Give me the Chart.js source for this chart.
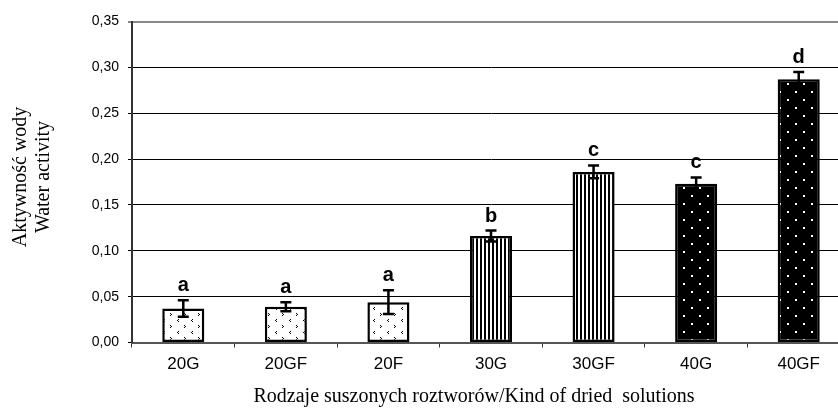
<!DOCTYPE html>
<html>
<head>
<meta charset="utf-8">
<script src="https://cdn.jsdelivr.net/npm/chart.js@4"></script>
<style>
  html, body { margin: 0; padding: 0; background: #fff; overflow: hidden; }
  #wrap { width: 850px; height: 412px; }
</style>
</head>
<body>
<div id="wrap"><canvas id="c" width="850" height="412"></canvas></div>
<script>
// Water activity of dried solutions
const categories = ['20G', '20GF', '20F', '30G', '30GF', '40G', '40GF'];
const activity   = [0.037, 0.039, 0.044, 0.116, 0.186, 0.173, 0.287];
const errors     = [0.009, 0.005, 0.013, 0.006, 0.007, 0.007, 0.008];
const groups     = ['a', 'a', 'a', 'b', 'c', 'c', 'd'];
const yTicks     = [0, 0.05, 0.10, 0.15, 0.20, 0.25, 0.30, 0.35];

// fill patterns
function tile(w, h, draw) {
  const t = document.createElement('canvas');
  t.width = w; t.height = h;
  const g = t.getContext('2d');
  draw(g);
  return t.getContext('2d').createPattern(t, 'repeat');
}
// sparse chevrons on white
const chevrons = tile(14, 12, g => {
  g.fillStyle = '#fff'; g.fillRect(0, 0, 14, 12);
  g.fillStyle = '#000';
  // ">"
  g.fillRect(2, 1, 1, 1); g.fillRect(3, 2, 1, 1); g.fillRect(2, 3, 1, 1);
  // "<"
  g.fillRect(10, 7, 1, 1); g.fillRect(9, 8, 1, 1); g.fillRect(10, 9, 1, 1);
});
// vertical stripes
const stripes = tile(4, 1, g => {
  g.fillStyle = '#fff'; g.fillRect(0, 0, 4, 1);
  g.fillStyle = '#000'; g.fillRect(0, 0, 2, 1);
});
// white dots on black
const dots = tile(16, 16, g => {
  g.fillStyle = '#000'; g.fillRect(0, 0, 16, 16);
  g.fillStyle = '#fff';
  g.fillRect(3, 3, 2, 2); g.fillRect(11, 11, 2, 2);
});
const fills = [chevrons, chevrons, chevrons, stripes, stripes, dots, dots];

const errorBars = {
  id: 'errorBars',
  afterDatasetsDraw(chart) {
    const ctx = chart.ctx;
    const y = chart.scales.y;
    const meta = chart.getDatasetMeta(0);
    ctx.save();
    ctx.strokeStyle = '#000';
    ctx.lineWidth = 2.5;
    meta.data.forEach((bar, i) => {
      const x = bar.x;
      const top = y.getPixelForValue(activity[i] + errors[i]);
      const bot = y.getPixelForValue(activity[i] - errors[i]);
      ctx.beginPath();
      ctx.moveTo(x, top); ctx.lineTo(x, bot);
      ctx.moveTo(x - 5.5, top); ctx.lineTo(x + 5.5, top);
      ctx.moveTo(x - 5.5, bot); ctx.lineTo(x + 5.5, bot);
      ctx.stroke();
      ctx.fillStyle = '#000';
      ctx.font = 'bold 20px "Liberation Sans", Arial, sans-serif';
      ctx.textAlign = 'center';
      ctx.textBaseline = 'alphabetic';
      ctx.fillText(groups[i], x, top - 9);
    });
    ctx.restore();
  }
};

const axisTitles = {
  id: 'axisTitles',
  afterDraw(chart) {
    const ctx = chart.ctx;
    ctx.save();
    ctx.fillStyle = '#000';
    ctx.font = '20px "Liberation Serif", "Times New Roman", serif';
    ctx.textAlign = 'center';
    ctx.textBaseline = 'middle';
    ctx.fillText('Rodzaje suszonych roztworów/Kind of dried  solutions', 474, 397);
    ctx.translate(0, 177);
    ctx.rotate(-Math.PI / 2);
    ctx.fillText('Aktywność wody', 0, 21);
    ctx.fillText('Water activity', 0, 44);
    ctx.restore();
  }
};

new Chart(document.getElementById('c'), {
  type: 'bar',
  data: {
    labels: categories,
    datasets: [{
      data: activity,
      backgroundColor: fills,
      borderColor: '#000',
      borderWidth: 2.5,
      borderSkipped: false,
      categoryPercentage: 1,
      barPercentage: 0.41
    }]
  },
  options: {
    responsive: false,
    animation: false,
    layout: { padding: { left: 0, right: 0, top: 21.5, bottom: 0 } },
    plugins: { legend: { display: false }, tooltip: { enabled: false } },
    scales: {
      x: {
        offset: true,
        grid: { offset: true, drawOnChartArea: false, drawTicks: true, tickLength: 5, color: '#333', lineWidth: 1 },
        border: { display: true, color: '#555', width: 2 },
        ticks: { color: '#000', font: { family: '"Liberation Sans", Arial, sans-serif', size: 17 }, padding: 7 },
        afterFit(s) { s.height = 412 - 342.5; }
      },
      y: {
        min: 0, max: 0.35,
        afterBuildTicks(s) { s.ticks = yTicks.map(v => ({ value: v })); },
        grid: {
          drawTicks: true, tickLength: 4,
          color: c => (c.tick && (Math.abs(c.tick.value - 0.35) < 1e-6)) ? '#888' : '#000',
          lineWidth: c => (c.tick && (Math.abs(c.tick.value - 0.35) < 1e-6)) ? 2 : 1
        },
        border: { display: true, color: '#333', width: 2 },
        ticks: {
          color: '#000', padding: 9,
          font: { family: '"Liberation Sans", Arial, sans-serif', size: 14 },
          callback: v => v.toFixed(2).replace('.', ',')
        },
        afterFit(s) { s.width = 132; }
      }
    }
  },
  plugins: [errorBars, axisTitles]
});
</script>
</body>
</html>
